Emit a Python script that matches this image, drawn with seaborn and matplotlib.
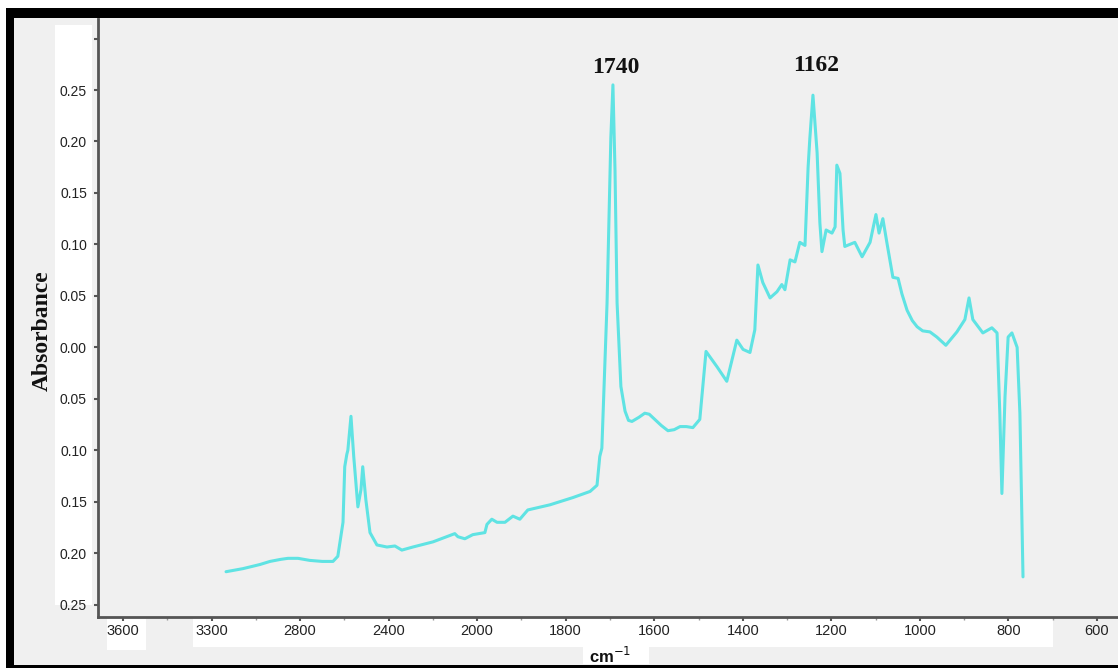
import numpy as np
import pandas as pd
import matplotlib
matplotlib.use("Agg")
import matplotlib.pyplot as plt
from matplotlib.patches import Rectangle
import seaborn as sns

# FTIR absorbance spectrum (wavenumber in cm-1, absorbance)
wavenumber = [2858, 2809, 2760, 2731, 2700, 2679, 2650, 2616, 2580, 2549, 2535, 2520, 2515, 2509, 2506, 2497,
              2489, 2477, 2468, 2463, 2454, 2442, 2422, 2393, 2370, 2350, 2318, 2260,
              2197, 2188, 2168, 2145, 2110, 2104, 2090, 2075, 2052, 2029, 2009, 1986,
              1922, 1856, 1806, 1786, 1778, 1772, 1757, 1746, 1740, 1734, 1728, 1717,
              1705, 1695, 1685, 1665, 1648, 1635, 1619, 1600, 1581, 1563, 1546, 1528, 1509, 1489,
              1471, 1454, 1439, 1411,
              1382, 1364, 1344, 1330, 1321, 1307, 1286, 1266, 1252, 1243, 1228, 1214,
              1200, 1185, 1176, 1171, 1162, 1150, 1142, 1136, 1124, 1107, 1098, 1093,
              1084, 1075, 1070, 1041, 1020, 997, 980, 971, 960, 948, 931, 916,
              905, 890, 875, 861, 845, 824, 804, 778, 746, 723, 711, 700, 671, 645, 630,
              622, 616, 607, 598, 587, 572, 564, 555]
absorbance = [-0.218, -0.215, -0.211, -0.208, -0.206, -0.205, -0.205, -0.207, -0.208, -0.208, -0.203, -0.170, -0.116, -0.104, -0.100, -0.067,
              -0.106, -0.155, -0.138, -0.116, -0.148, -0.180, -0.192, -0.194, -0.193, -0.197, -0.194, -0.189,
              -0.181, -0.184, -0.186, -0.182, -0.180, -0.172, -0.167, -0.170, -0.170, -0.164, -0.167, -0.158,
              -0.153, -0.146, -0.140, -0.134, -0.106, -0.098, 0.043, 0.204, 0.255, 0.172, 0.043, -0.038,
              -0.062, -0.071, -0.072, -0.068, -0.064, -0.065, -0.070, -0.076, -0.081, -0.080, -0.077, -0.077, -0.078, -0.070,
              -0.004, -0.012, -0.019, -0.033,
              0.007, -0.002, -0.005, 0.017, 0.080, 0.063, 0.048, 0.054, 0.061, 0.056, 0.085, 0.083,
              0.102, 0.099, 0.175, 0.203, 0.245, 0.189, 0.121, 0.093, 0.114, 0.111, 0.117, 0.177,
              0.169, 0.114, 0.098, 0.102, 0.088, 0.102, 0.129, 0.111, 0.125, 0.101, 0.068, 0.067,
              0.052, 0.036, 0.026, 0.020, 0.016, 0.015, 0.010, 0.002, 0.015, 0.027, 0.048, 0.027, 0.014, 0.019, 0.014,
              -0.064, -0.142, -0.048, 0.010, 0.014, 0.000, -0.064, -0.223]

peak_labels = [1740, 1162]
xtick_labels = ["3600", "3300", "2800", "2400", "2000", "1800",
                "1600", "1400", "1200", "1000", "800", "600"]
ytick_values = [0.30, 0.25, 0.20, 0.15, 0.10, 0.05, 0.00,
                -0.05, -0.10, -0.15, -0.20, -0.25]

df = pd.DataFrame({"wavenumber": wavenumber, "absorbance": absorbance})

sns.set_theme(style="ticks")
plt.rcParams["font.family"] = ["Liberation Sans", "DejaVu Sans"]

W, H = 1118, 668
BG = "#f0f0f0"
LINE = "#5fe3e3"
AXIS = "#555555"

fig = plt.figure(figsize=(W / 100, H / 100), dpi=100, facecolor=BG)


def fx(px):
    return px / W


def fy(py):
    return 1 - py / H


def box(x0, y0, x1, y1, color, z):
    fig.add_artist(Rectangle((fx(x0), fy(y1)), fx(x1) - fx(x0), fy(y0) - fy(y1),
                             transform=fig.transFigure, facecolor=color,
                             edgecolor="none", zorder=z))


ax = fig.add_axes([fx(98), fy(617), fx(1118) - fx(98), fy(19) - fy(617)])
ax.set_facecolor(BG)

sns.lineplot(data=df, x="wavenumber", y="absorbance", color=LINE, linewidth=2.2,
             estimator=None, sort=False, ax=ax)

ax.set_xlim(3228, 280.5)
ax.set_ylim(-0.262, 0.319)

# evenly spaced wavenumber ticks along the axis
x0, x1 = ax.get_xlim()
frac = np.linspace(25 / 1020, 999 / 1020, len(xtick_labels))
xt = x0 + frac * (x1 - x0)
ax.set_xticks(xt)
ax.set_xticklabels(xtick_labels)
ax.set_xticks((xt[:-1] + xt[1:]) / 2, minor=True)

ax.set_yticks(ytick_values)
ax.set_yticklabels(["" if v > 0.27 else f"{abs(v):.2f}" for v in ytick_values])

for side in ("top", "right"):
    ax.spines[side].set_visible(False)
for side in ("left", "bottom"):
    ax.spines[side].set_color(AXIS)
    ax.spines[side].set_linewidth(2)

ax.tick_params(axis="x", which="major", direction="out", length=3, width=1.5,
               color=AXIS, labelsize=10.5, labelcolor="#222222", pad=2)
ax.tick_params(axis="x", which="minor", direction="out", length=2, width=1,
               color="#999999")
ax.tick_params(axis="y", direction="out", length=3, width=1.5, color=AXIS,
               labelsize=10, labelcolor="#222222", pad=5)

ax.set_ylabel("Absorbance", fontfamily=["Liberation Serif", "DejaVu Serif"],
              fontweight="bold", fontsize=17, color="#111111")
ax.yaxis.set_label_coords(-0.044, 0.478)
ax.set_xlabel(r"cm$^{-1}$", fontweight="bold", fontsize=12, color="#111111")
ax.xaxis.set_label_coords(0.502, -0.049)

# peak annotations
for wn, dy in zip(peak_labels, (5, 14)):
    yv = df.loc[df["wavenumber"] == wn, "absorbance"].iloc[0]
    ax.annotate(str(wn), xy=(wn, yv), xytext=(2, dy), textcoords="offset points",
                ha="center", va="bottom", fontsize=17, fontweight="bold",
                fontfamily=["Liberation Serif", "DejaVu Serif"], color="#111111",
                annotation_clip=False)

# white backing behind the tick labels and axis title
box(55, 25, 92, 605, "white", -1)
box(107, 619, 146, 650, "white", -1)
box(193, 619, 1053, 647, "white", -1)
box(583, 645, 649, 664, "white", -1)

# black frame around the plot
box(0, 0, W, 8, "white", 5)
box(0, 0, 6, H, "white", 5)
box(6, 8, W, 18, "black", 6)
box(6, 8, 14, H, "black", 6)
box(6, 665, W, H, "black", 6)

fig.savefig("out.png", dpi=100, facecolor=BG)
